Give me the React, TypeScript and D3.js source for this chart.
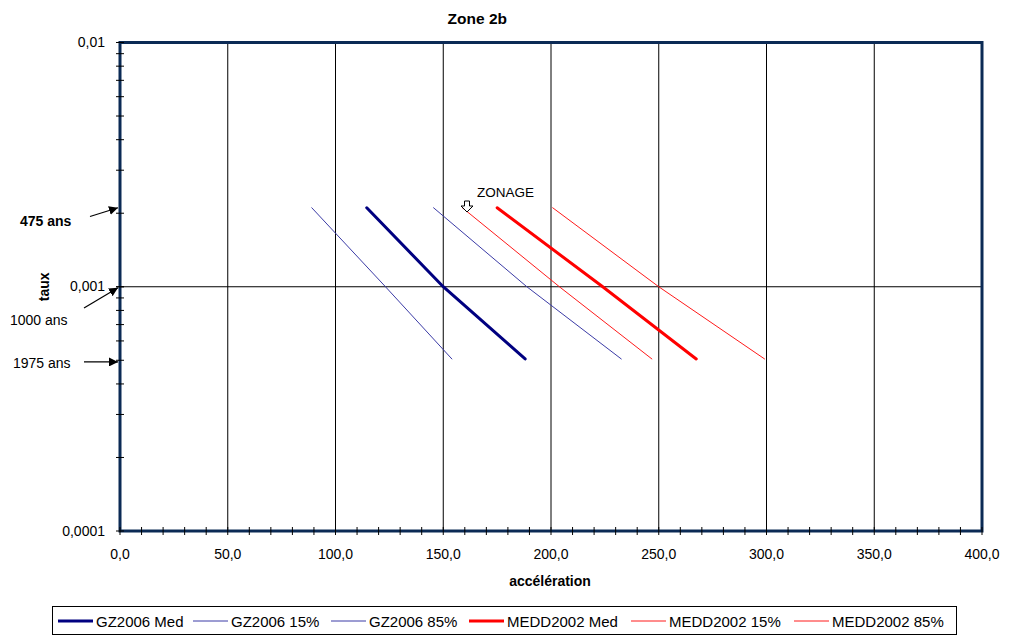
import React from "react";
import * as d3 from "d3";

// Return periods (years) used for every curve: 475, 1000 and 1975 years
const returnPeriods = [475, 1000, 1975];

// Acceleration values reached at each return period
const gzMed = [114.5, 150, 188];
const gz15 = [89, 123.2, 154];
const gz85 = [145.5, 188.8, 232.6];
const meddMed = [175, 224, 267.4];
const medd15 = [158.9, 203.9, 246.8];
const medd85 = [200.8, 250, 299.1];

const seriesNames = [
  "GZ2006 Med",
  "GZ2006 15%",
  "GZ2006 85%",
  "MEDD2002 Med",
  "MEDD2002 15%",
  "MEDD2002 85%",
];
const seriesValues = [gzMed, gz15, gz85, meddMed, medd15, medd85];
const seriesColors = ["#000080", "#3b3ba6", "#3b3ba6", "#ff0000", "#ff1a1a", "#ff1a1a"];
const seriesWidths = [3, 1, 1, 3, 1, 1];

const xTicks = [0, 50, 100, 150, 200, 250, 300, 350, 400];
const yTicks = [0.0001, 0.001, 0.01];

const W = 1009;
const H = 636;
const M = { left: 120, right: 982, top: 42.5, bottom: 531 };
const FONT = "'Liberation Sans', Arial, sans-serif";

const fmtX = (v: number) => v.toFixed(1).replace(".", ",");
const fmtY = (v: number) => String(v).replace(".", ",");

export default function App() {
  const x = d3.scaleLinear().domain([0, 400]).range([M.left, M.right]);
  const y = d3.scaleLog().domain([0.0001, 0.01]).range([M.bottom, M.top]);

  const line = d3
    .line<[number, number]>()
    .x((d) => x(d[0]))
    .y((d) => y(d[1]));

  const xMinor = d3.range(0, 401, 10);
  const yMinor: number[] = [];
  [0.0001, 0.001].forEach((dec) => {
    for (let k = 1; k <= 10; k++) yMinor.push(dec * k);
  });

  const legendItems = [58, 193, 331, 469, 631, 794];

  return (
    <svg
      width={W}
      height={H}
      style={{ position: "absolute", left: 0, top: 0, background: "#fff" }}
      fontFamily={FONT}
    >
      <defs>
        <marker
          id="ah"
          viewBox="0 0 10 10"
          refX="10"
          refY="5"
          markerWidth="9"
          markerHeight="9"
          markerUnits="userSpaceOnUse"
          orient="auto"
        >
          <path d="M0,0 L10,5 L0,10 Z" fill="#000" />
        </marker>
      </defs>

      {/* Title */}
      <text x={507} y={24} textAnchor="end" fontWeight="bold" fontSize={15.5}>
        Zone 2b
      </text>

      {/* Vertical gridlines */}
      {xTicks.slice(1, -1).map((t) => (
        <line key={"gx" + t} x1={x(t)} x2={x(t)} y1={M.top} y2={M.bottom} stroke="#000" strokeWidth={1} />
      ))}
      {/* Horizontal gridline at 0,001 */}
      <line x1={M.left} x2={M.right} y1={y(0.001)} y2={y(0.001)} stroke="#000" strokeWidth={1} />

      {/* Curves */}
      {seriesValues.map((vals, i) => (
        <path
          key={seriesNames[i]}
          d={line(vals.map((v, j) => [v, 1 / returnPeriods[j]] as [number, number])) || ""}
          fill="none"
          stroke={seriesColors[i]}
          strokeWidth={seriesWidths[i]}
          strokeLinecap="round"
        />
      ))}

      {/* Plot frame */}
      <rect
        x={M.left}
        y={M.top}
        width={M.right - M.left}
        height={M.bottom - M.top}
        fill="none"
        stroke="#0b2a55"
        strokeWidth={3}
      />

      {/* X axis ticks */}
      {xMinor.map((t) => (
        <line key={"xt" + t} x1={x(t)} x2={x(t)} y1={M.bottom - 4} y2={M.bottom + 4} stroke="#000" strokeWidth={1} />
      ))}
      {xTicks.map((t) => (
        <text key={"xl" + t} x={x(t)} y={559} textAnchor="middle" fontSize={14}>
          {fmtX(t)}
        </text>
      ))}

      {/* Y axis ticks */}
      {yMinor.map((t, i) => (
        <line key={"yt" + i} x1={M.left - 4} x2={M.left + 4} y1={y(t)} y2={y(t)} stroke="#000" strokeWidth={1} />
      ))}
      {yTicks.map((t) => (
        <text key={"yl" + t} x={105} y={y(t) + 4.5} textAnchor="end" fontSize={14}>
          {fmtY(t)}
        </text>
      ))}

      {/* Axis titles */}
      <text x={550} y={586} textAnchor="middle" fontWeight="bold" fontSize={14}>
        accélération
      </text>
      <text
        transform={`translate(49, ${y(0.001)}) rotate(-90)`}
        textAnchor="middle"
        fontWeight="bold"
        fontSize={14}
      >
        taux
      </text>

      {/* Return period annotations */}
      <text x={20} y={226} fontWeight="bold" fontSize={14}>
        475 ans
      </text>
      <line x1={90} y1={216.5} x2={118} y2={y(1 / 475)} stroke="#000" strokeWidth={1.2} markerEnd="url(#ah)" />
      <text x={10} y={325} fontSize={14}>
        1000 ans
      </text>
      <line x1={84} y1={308} x2={118} y2={y(1 / 1000) + 1} stroke="#000" strokeWidth={1.2} markerEnd="url(#ah)" />
      <text x={13} y={368} fontSize={14}>
        1975 ans
      </text>
      <line x1={84} y1={y(1 / 1975) + 3} x2={118} y2={y(1 / 1975) + 3} stroke="#000" strokeWidth={1.2} markerEnd="url(#ah)" />

      {/* Zoning marker */}
      <text x={477} y={197} fontSize={13.5}>
        ZONAGE
      </text>
      <path
        d="M464.5,201 L469.5,201 L469.5,206 L473,206 L467,212 L461,206 L464.5,206 Z"
        fill="#fff"
        stroke="#000"
        strokeWidth={1}
      />

      {/* Legend */}
      <rect x={52.5} y={606.5} width={904} height={28} fill="#fff" stroke="#000" strokeWidth={1} />
      {seriesNames.map((name, i) => (
        <g key={"lg" + name}>
          <line
            x1={legendItems[i]}
            x2={legendItems[i] + 35}
            y1={621}
            y2={621}
            stroke={seriesColors[i]}
            strokeWidth={seriesWidths[i] === 3 ? 3 : 1}
          />
          <text x={legendItems[i] + 38} y={627} fontSize={15}>
            {name}
          </text>
        </g>
      ))}
    </svg>
  );
}
